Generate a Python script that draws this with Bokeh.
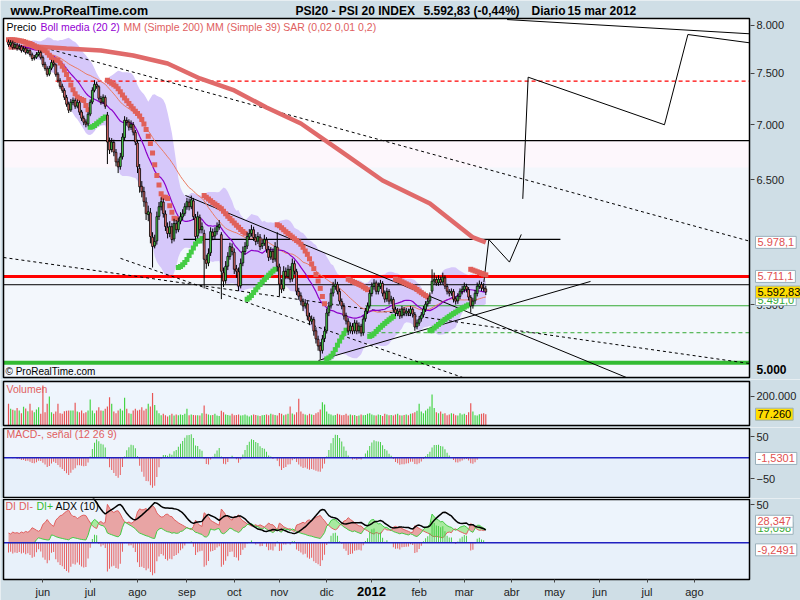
import numpy as np
from bokeh.plotting import figure
from bokeh.layouts import column
from bokeh.models import Range1d, FixedTicker, Label, ColumnDataSource, LinearAxis, LogAxis
from bokeh.embed import file_html
from bokeh.resources import INLINE

# ---------------- data ----------------
month_labels = ["jun", "jul", "ago", "sep", "oct", "nov", "dic", "2012", "feb", "mar",
                "abr", "may", "jun", "jul", "ago"]
month_index = [16, 38, 60, 83, 105, 126, 148, 169, 191, 212, 234, 254, 275, 297, 319]

opens = [
    7820, 7790, 7810, 7765, 7790, 7755, 7770, 7735, 7750, 7712,
    7730, 7688, 7652, 7662, 7690, 7712, 7658, 7590, 7545, 7490,
    7550, 7605, 7585, 7490, 7425, 7370, 7328, 7260, 7196, 7140,
    7210, 7230, 7176, 7210, 7120, 7060, 7025, 7006, 7100, 7215,
    7330, 7390, 7365, 7250, 7215, 7260, 7090, 6845, 6770, 6835,
    6745, 6660, 6617, 6705, 6880, 7040, 7025, 6975, 7000, 6928,
    6830, 6600, 6445, 6400, 6310, 6205, 6220, 6020, 5950, 5990,
    6190, 6270, 6310, 6210, 6100, 6050, 6105, 6005, 6130, 6080,
    6150, 6185, 6215, 6270, 6310, 6270, 6320, 6180, 6030, 6180,
    6080, 6050, 5840, 5815, 5895, 6060, 6030, 6065, 6100, 6040,
    5740, 5680, 5790, 5865, 5940, 5900, 5770, 5748, 5640, 5815,
    5905, 5948, 6022, 6050, 6080, 6015, 5988, 6020, 5948, 5970,
    5998, 5920, 5862, 5905, 5846, 5940, 5785, 5650, 5618, 5750,
    5712, 5765, 5692, 5810, 5748, 5597, 5565, 5522, 5490, 5505,
    5413, 5378, 5390, 5310, 5250, 5205, 5172, 5255, 5310, 5440,
    5490, 5585, 5635, 5650, 5597, 5523, 5487, 5418, 5378, 5310,
    5342, 5310, 5364, 5310, 5342, 5296, 5396, 5450, 5490, 5582,
    5635, 5662, 5597, 5635, 5658, 5586, 5542, 5597, 5527, 5538,
    5465, 5436, 5450, 5418, 5465, 5436, 5450, 5436, 5465, 5428,
    5339, 5364, 5396, 5425, 5465, 5505, 5527, 5600, 5676, 5688,
    5662, 5688, 5669, 5700, 5635, 5597, 5586, 5597, 5542, 5527,
    5560, 5597, 5612, 5635, 5612, 5553, 5492, 5527, 5582, 5635,
    5650, 5624, 5617]

highs = [
    7845, 7840, 7835, 7820, 7810, 7800, 7790, 7775, 7770, 7755,
    7750, 7710, 7685, 7715, 7735, 7730, 7680, 7615, 7570, 7575,
    7635, 7630, 7600, 7510, 7450, 7395, 7350, 7285, 7220, 7245,
    7260, 7250, 7240, 7230, 7140, 7085, 7050, 7120, 7240, 7360,
    7430, 7415, 7380, 7275, 7290, 7280, 7120, 6880, 6875, 6860,
    6775, 6690, 6740, 6920, 7080, 7070, 7050, 7040, 7025, 6950,
    6860, 6640, 6490, 6440, 6350, 6280, 6260, 6060, 6040, 6230,
    6310, 6350, 6340, 6240, 6140, 6150, 6135, 6170, 6160, 6180,
    6225, 6250, 6300, 6345, 6340, 6365, 6345, 6210, 6230, 6205,
    6140, 6080, 5880, 5930, 6100, 6090, 6100, 6140, 6160, 6060,
    5780, 5830, 5900, 5975, 5970, 5930, 5800, 5780, 5850, 5945,
    5980, 6060, 6085, 6120, 6105, 6045, 6060, 6045, 6000, 6040,
    6020, 5950, 5940, 5930, 5980, 6060, 5810, 5690, 5790, 5780,
    5800, 5790, 5850, 5835, 5770, 5625, 5590, 5545, 5540, 5525,
    5440, 5420, 5410, 5335, 5275, 5230, 5280, 5340, 5470, 5520,
    5620, 5670, 5690, 5670, 5620, 5545, 5510, 5440, 5400, 5370,
    5365, 5390, 5385, 5370, 5360, 5420, 5475, 5515, 5610, 5665,
    5690, 5680, 5665, 5685, 5675, 5605, 5625, 5615, 5565, 5555,
    5485, 5475, 5470, 5490, 5480, 5475, 5470, 5490, 5480, 5445,
    5390, 5415, 5445, 5490, 5525, 5550, 5590, 5766, 5740, 5710,
    5720, 5710, 5740, 5720, 5655, 5615, 5620, 5615, 5560, 5585,
    5620, 5640, 5665, 5655, 5630, 5570, 5550, 5610, 5665, 5680,
    5670, 5660, 5640]

lows = [
    7770, 7770, 7740, 7745, 7730, 7735, 7710, 7715, 7690, 7695,
    7668, 7625, 7630, 7645, 7670, 7640, 7565, 7525, 7465, 7470,
    7530, 7565, 7465, 7405, 7345, 7305, 7235, 7170, 7110, 7120,
    7185, 7150, 7155, 7090, 7035, 6995, 6975, 6985, 7080, 7195,
    7310, 7345, 7230, 7190, 7195, 7150, 6640, 6730, 6745, 6710,
    6620, 6560, 6590, 6680, 6850, 6990, 6945, 6950, 6900, 6810,
    6560, 6390, 6350, 6270, 6160, 6150, 5970, 5780, 5930, 5960,
    6160, 6240, 6180, 6070, 6010, 6020, 5970, 5985, 6050, 6060,
    6125, 6160, 6195, 6245, 6240, 6250, 6160, 5990, 6010, 6050,
    6050, 5620, 5770, 5790, 5870, 5995, 6005, 6040, 6080, 5540,
    5630, 5655, 5760, 5840, 5875, 5730, 5700, 5600, 5620, 5790,
    5880, 5925, 6000, 6025, 5990, 5955, 5965, 5915, 5925, 5950,
    5895, 5830, 5840, 5815, 5825, 5750, 5562, 5585, 5600, 5690,
    5690, 5665, 5670, 5725, 5570, 5535, 5495, 5452, 5470, 5385,
    5350, 5355, 5275, 5220, 5170, 5113, 5150, 5230, 5290, 5415,
    5470, 5560, 5610, 5575, 5500, 5465, 5390, 5355, 5280, 5290,
    5285, 5290, 5285, 5290, 5270, 5275, 5375, 5430, 5470, 5560,
    5610, 5575, 5575, 5615, 5560, 5515, 5520, 5500, 5505, 5440,
    5415, 5415, 5395, 5400, 5415, 5415, 5415, 5415, 5405, 5310,
    5320, 5345, 5375, 5405, 5445, 5485, 5505, 5580, 5650, 5640,
    5640, 5645, 5650, 5615, 5575, 5560, 5565, 5515, 5500, 5505,
    5540, 5575, 5590, 5590, 5530, 5440, 5470, 5505, 5560, 5615,
    5600, 5595, 5570]

closes = [
    7793, 7814, 7762, 7793, 7752, 7773, 7732, 7752, 7711, 7732,
    7690, 7649, 7660, 7690, 7711, 7660, 7588, 7548, 7488, 7548,
    7608, 7588, 7488, 7429, 7369, 7330, 7262, 7194, 7137, 7213,
    7232, 7175, 7213, 7118, 7061, 7023, 7004, 7099, 7213, 7330,
    7389, 7369, 7252, 7213, 7262, 7175, 6839, 6766, 6839, 6748,
    6659, 6615, 6703, 6884, 7042, 7023, 6976, 7004, 6930, 6839,
    6615, 6440, 6397, 6313, 6213, 6229, 6025, 5945, 5985, 6188,
    6271, 6313, 6213, 6106, 6049, 6106, 6001, 6131, 6081, 6147,
    6188, 6213, 6271, 6313, 6271, 6330, 6188, 6025, 6188, 6081,
    6106, 5844, 5812, 5890, 6065, 6025, 6065, 6106, 6122, 5751,
    5675, 5789, 5867, 5945, 5906, 5766, 5751, 5637, 5812, 5906,
    5945, 6025, 6049, 6081, 6017, 5985, 6025, 5945, 5969, 6001,
    5922, 5859, 5906, 5844, 5945, 5789, 5652, 5614, 5751, 5713,
    5766, 5690, 5812, 5751, 5599, 5562, 5525, 5489, 5510, 5416,
    5380, 5394, 5308, 5252, 5203, 5169, 5252, 5308, 5438, 5489,
    5584, 5637, 5652, 5599, 5525, 5489, 5416, 5380, 5308, 5344,
    5308, 5366, 5308, 5344, 5294, 5394, 5452, 5489, 5584, 5637,
    5660, 5599, 5637, 5660, 5584, 5540, 5599, 5525, 5540, 5467,
    5438, 5452, 5416, 5467, 5438, 5452, 5438, 5467, 5430, 5337,
    5366, 5394, 5423, 5467, 5503, 5525, 5562, 5675, 5690, 5660,
    5690, 5667, 5705, 5637, 5599, 5584, 5599, 5540, 5525, 5562,
    5599, 5614, 5637, 5614, 5555, 5489, 5525, 5584, 5637, 5652,
    5622, 5617, 5592.83]

volumes = [
    148000, 114000, 108000, 102000, 120000, 102000, 84000, 128000, 116000, 97000,
    148000, 102000, 90000, 110000, 124000, 81000, 273000, 90000, 148000, 198000,
    90000, 80000, 95000, 148000, 84000, 80000, 97000, 100000, 102000, 102000,
    102000, 155000, 95000, 90000, 102000, 84000, 90000, 102000, 177000, 102000,
    84000, 102000, 125000, 102000, 100000, 114000, 130000, 193000, 148000, 95000,
    84000, 102000, 114000, 102000, 189000, 114000, 84000, 80000, 102000, 114000,
    102000, 108000, 124000, 102000, 114000, 148000, 130000, 221000, 140000, 102000,
    84000, 70000, 80000, 70000, 62000, 70000, 80000, 68000, 75000, 70000,
    75000, 72000, 80000, 114000, 70000, 75000, 72000, 70000, 70000, 68000,
    84000, 137000, 80000, 75000, 70000, 72000, 80000, 68000, 65000, 100000,
    90000, 75000, 72000, 68000, 80000, 70000, 72000, 75000, 68000, 70000,
    75000, 68000, 62000, 70000, 75000, 72000, 68000, 65000, 70000, 72000,
    75000, 70000, 80000, 75000, 72000, 68000, 85000, 80000, 70000, 75000,
    80000, 130000, 82000, 75000, 90000, 182000, 95000, 80000, 75000, 70000,
    80000, 75000, 72000, 84000, 90000, 110000, 159000, 143000, 95000, 80000,
    75000, 68000, 72000, 80000, 75000, 70000, 72000, 80000, 68000, 75000,
    70000, 72000, 65000, 68000, 75000, 70000, 72000, 80000, 84000, 75000,
    70000, 68000, 75000, 72000, 65000, 80000, 75000, 70000, 72000, 68000,
    75000, 80000, 70000, 68000, 72000, 75000, 70000, 80000, 84000, 90000,
    100000, 148000, 95000, 84000, 102000, 114000, 130000, 212000, 120000, 90000,
    84000, 95000, 80000, 84000, 70000, 75000, 84000, 80000, 70000, 68000,
    84000, 75000, 80000, 72000, 90000, 152000, 95000, 70000, 68000, 77000,
    80000, 84000, 77260]

# 200-day simple average, read at a few points along its curve
mm200_index = [0, 12, 27, 43, 58, 74, 89, 105, 120, 136, 154, 174, 196, 216, 222]
mm200_value = [7763, 7773, 7752, 7732, 7680, 7598, 7447, 7328, 7163, 7011, 6762, 6495, 6298, 6018, 5978.1]

# last indicator values printed on the right-hand scale
last_macd_hist = -1.5301
last_di_minus = 28.347
last_di_plus = 19.098
last_di_diff = -9.2491

# horizontal levels drawn on the price chart
level_price = [6851, 7421, 6002, 5711.1, 5648, 5491, 5296, 5087]
level_from = [-2.3, 21.9, 81.4, -2.3, -2.3, 166.0, 163.7, -2.3]
level_to = [344.6, 344.6, 256.7, 344.6, 344.6, 344.6, 344.6, 344.6]

# drawn trend lines (solid and dashed), index / price
solid_x0 = [82.3, 144.2, 231.9]
solid_p0 = [6366, 5103, 8059]
solid_x1 = [287.3, 270.7, 344.6]
solid_p1 = [4988, 5673, 7907]
dashed_x0 = [11.6, 52.1, -2.3]
dashed_p0 = [7791, 5851, 5858]
dashed_x1 = [344.6, 211.2, 344.6]
dashed_p1 = [5988, 4988, 5082]

# projected path drawn into the future
proj1_x = [221.1, 223.4, 233.0, 238.5]
proj1_p = [5667, 6001, 5822, 6042]
proj2_x = [239.2, 241.7, 305.1, 316.0, 344.6]
proj2_p = [6337, 7460, 6999, 7899, 7812]

# ---------------- indicators derived from the price data ----------------
o = np.array(opens, float)
h = np.array(highs, float)
l = np.array(lows, float)
c = np.array(closes, float)
v = np.array(volumes, float)
n = len(c)
ix = np.arange(n)


def roll(a, w, f):
    return np.array([f(a[max(0, i - w + 1):i + 1]) for i in range(len(a))])


def ema(a, w):
    k = 2.0 / (w + 1)
    out = np.empty(len(a))
    out[0] = a[0]
    for i in range(1, len(a)):
        out[i] = out[i - 1] + k * (a[i] - out[i - 1])
    return out


def wilder(a, w):
    out = np.empty(len(a))
    out[0] = a[:w].mean()
    for i in range(1, len(a)):
        out[i] = out[i - 1] + (a[i] - out[i - 1]) / w
    return out


mid = roll(c, 20, np.mean)
sd = roll(c, 20, np.std)
bb_up = mid + 2 * sd
bb_lo = mid - 2 * sd
mm39 = roll(c, 39, np.mean)

macd = ema(c, 12) - ema(c, 26)
hist = macd - ema(macd, 9)

pc = np.r_[c[0], c[:-1]]
ph = np.r_[h[0], h[:-1]]
pl = np.r_[l[0], l[:-1]]
tr = np.maximum.reduce([h - l, np.abs(h - pc), np.abs(l - pc)])
upm = h - ph
dnm = pl - l
pdm = np.where((upm > dnm) & (upm > 0), upm, 0.0)
mdm = np.where((dnm > upm) & (dnm > 0), dnm, 0.0)
atr = wilder(tr, 10)
pdi = 100 * wilder(pdm, 10) / atr
mdi = 100 * wilder(mdm, 10) / atr
dx = 100 * np.abs(pdi - mdi) / np.maximum(pdi + mdi, 1e-9)
adx = wilder(dx, 10)
didiff = pdi - mdi

# parabolic SAR (0.02, 0.01, 0.2)
sar = np.empty(n)
bull = np.zeros(n, bool)
uptrend = False
ep = l[0]
af = 0.02
sar[0] = h[0]
for i in range(1, n):
    s = sar[i - 1] + af * (ep - sar[i - 1])
    if uptrend:
        s = min(s, l[i - 1], l[max(i - 2, 0)])
        if l[i] < s:
            uptrend, s, ep, af = False, ep, l[i], 0.02
        elif h[i] > ep:
            ep, af = h[i], min(af + 0.01, 0.2)
    else:
        s = max(s, h[i - 1], h[max(i - 2, 0)])
        if h[i] > s:
            uptrend, s, ep, af = True, ep, h[i], 0.02
        elif l[i] < ep:
            ep, af = l[i], min(af + 0.01, 0.2)
    sar[i] = s
    bull[i] = uptrend

# ---------------- layout / styling ----------------
BG = "#cfdee6"
FONT = "Liberation Sans"
UP, DN = "#4cd44c", "#e8706a"
XPX0, XSTEP = 8.0, 2.15            # pixel position of day 0 and pixel width per day


def xi(px):
    return (px - XPX0) / XSTEP


xr = Range1d(xi(0), xi(800))
PL, PR = xi(3), xi(749)            # panel left / right edges
AXX = xi(750)                      # right-hand scale position

# vertical calibration of each panel (pixel -> value)
Y0, K = 6728.1, 745.9


def pv_main(y):
    return float(np.exp((Y0 - y) / K))


def pv_vol(y):
    return (425 - y) * 6826.0


def pv_mac(y):
    return (457.3 - y) / 0.42


def pv_di(y):
    return (542.3 - y) / 0.76


GEOM = {}


def make(top, bottom, pv, ytype="linear"):
    p = figure(width=800, height=bottom - top, x_range=xr, y_range=Range1d(pv(bottom), pv(top)),
               y_axis_type=ytype, x_axis_location=None, y_axis_location=None,
               toolbar_location=None, output_backend="svg",
               min_border=0, min_border_left=0, min_border_right=0, min_border_top=0,
               min_border_bottom=0, background_fill_color=BG, border_fill_color=BG,
               outline_line_color=None)
    p.grid.visible = False
    GEOM[p.id] = (top, bottom - top)
    return p


def box(p, pv, ytop, ybot, color):
    p.quad(left=PL, right=PR, bottom=pv(ybot), top=pv(ytop), fill_color=color, line_color=None)


def frame(p, pv, ytop, ybot):
    p.quad(left=PL, right=PR, bottom=pv(ybot), top=pv(ytop), fill_color=None,
           line_color="black", line_width=1.5)


def yaxis(p, axcls, ticks, overrides=None):
    ax = axcls(fixed_location=AXX, ticker=FixedTicker(ticks=ticks))
    if overrides:
        ax.major_label_overrides = overrides
    ax.axis_line_color = None
    ax.major_tick_in = 0
    ax.major_tick_out = 4
    ax.major_tick_line_color = "#444"
    ax.minor_tick_line_color = None
    ax.major_label_text_font = FONT
    ax.major_label_text_font_size = "11px"
    ax.major_label_text_color = "#222"
    ax.major_label_standoff = 2
    p.add_layout(ax, "right")


def lab(p, x, y, text, color="black", size=10.5, bold=False, align="left"):
    top, hh = GEOM[p.id]
    p.add_layout(Label(x=x, y=hh - (y - top), x_units="screen", y_units="screen",
                       text=text, text_color=color, text_font=FONT,
                       text_font_size=f"{size}px", text_font_style="bold" if bold else "normal",
                       text_align=align, text_baseline="middle"))


def vlab(p, yval, text, color, fill):
    p.add_layout(Label(x=755, y=yval, x_units="screen", y_units="data", text=text,
                       text_color=color, text_font=FONT, text_font_size="11px",
                       text_baseline="middle", text_align="left",
                       background_fill_color=fill, border_line_color="#9ab0bb",
                       border_line_width=1, padding=2))


# ---- title + main price panel (pixels 0..379) ----
main = make(0, 379, pv_main, ytype="log")
box(main, pv_main, 18, 377, "#f3f7fc")
box(main, pv_main, 140, 167, "#fdf7fc")
box(main, pv_main, 18, 140, "white")
main.varea(x=ix, y1=bb_lo, y2=bb_up, fill_color="#d6c8fa")

lvl_color = ["black", "red", "black", "red", "black", "#33aa33", "#33aa33", "#33bb33"]
lvl_width = [1.2, 1.2, 1.2, 3, 1, 1, 1, 4]
lvl_dash = ["solid", "4 3", "solid", "solid", "solid", "solid", "4 3", "solid"]
for k in range(len(level_price)):
    main.line([level_from[k], level_to[k]], [level_price[k]] * 2, line_color=lvl_color[k],
              line_width=lvl_width[k], line_dash=lvl_dash[k])

main.segment(x0=dashed_x0, y0=dashed_p0, x1=dashed_x1, y1=dashed_p1, line_color="black",
             line_width=1, line_dash="3 3")
main.segment(x0=solid_x0, y0=solid_p0, x1=solid_x1, y1=solid_p1, line_color="black", line_width=1)
main.line(proj1_x, proj1_p, line_color="black", line_width=1)
main.line(proj2_x, proj2_p, line_color="black", line_width=1)

main.line(mm200_index, mm200_value, line_color="#e06a6a", line_width=4.5)
main.line(ix, mm39, line_color="#ea7a62", line_width=1)
main.line(ix, mid, line_color="#8b00c9", line_width=1.2)

main.scatter(ix[~bull], sar[~bull], marker="square", size=5, fill_color="#e0605a", line_color=None)
main.scatter(ix[bull], sar[bull], marker="square", size=5, fill_color="#44cc44", line_color=None)

src = ColumnDataSource(dict(x=ix, h=h, l=l, top=np.maximum(o, c), bot=np.minimum(o, c),
                            col=np.where(c >= o, UP, DN)))
main.segment(x0="x", y0="l", x1="x", y1="h", source=src, line_color="black", line_width=1)
main.vbar(x="x", width=0.85, top="top", bottom="bot", fill_color="col", line_color="black",
          line_width=0.8, source=src)
frame(main, pv_main, 18, 377)

yaxis(main, LogAxis, [5500, 6500, 7000, 7500, 8000],
      {5500: "5.500", 6500: "6.500", 7000: "7.000", 7500: "7.500", 8000: "8.000"})

lab(main, 10, 10, "www.ProRealTime.com", size=12.5, bold=True)
lab(main, 295, 10, "PSI20 - PSI 20 INDEX", size=12, bold=True)
lab(main, 423, 10, "5.592,83 (-0,44%)", size=12, bold=True)
lab(main, 531, 10, "Diario", size=12, bold=True)
lab(main, 567, 10, "15 mar 2012", size=12, bold=True)
lab(main, 6, 26, "Precio")
lab(main, 40, 26, "Boll media (20 2)", color="#9400d3")
lab(main, 123, 26, "MM (Simple 200) MM (Simple 39) SAR (0,02 0,01 0,2)", color="#e06060")
lab(main, 5, 371, "\u00a9 ProRealTime.com", size=10)
lab(main, 756, 369, "5.000", size=12, bold=True)

vlab(main, 5978.1, "5.978,1", "#e05050", "white")
vlab(main, 5711.1, "5.711,1", "#e05050", "white")
vlab(main, pv_main(299), "5.491,0", "#33aa33", "white")
vlab(main, 5592.83, "5.592,83", "black", "#ffdd00")

# ---- volume panel (pixels 379..427) ----
vol = make(379, 427, pv_vol)
box(vol, pv_vol, 381, 425, "#eef5fd")
vol.vbar(x=ix, width=0.55, top=v, bottom=0,
         fill_color=np.where(c >= o, "#44d444", "#e85555").tolist(), line_color=None)
frame(vol, pv_vol, 381, 425)
yaxis(vol, LinearAxis, [200000], {200000: "200.000"})
lab(vol, 6, 388, "Volumen", color="#e06060")
vlab(vol, 77260, "77.260", "black", "#ffdd00")

# ---- MACD panel (pixels 427..498) ----
mac = make(427, 498, pv_mac)
box(mac, pv_mac, 428, 497, "#eef4fc")
box(mac, pv_mac, 457.3, 497, "#e7f0fa")
mac.vbar(x=ix, width=0.45, top=hist, bottom=0,
         fill_color=np.where(hist >= 0, "#44cc44", "#e85a5a").tolist(), line_color=None)
mac.line([PL, PR], [0, 0], line_color="#2020c0", line_width=1.5)
frame(mac, pv_mac, 428, 497)
yaxis(mac, LinearAxis, [-50, 50])
lab(mac, 6, 433, "MACD-, se\u00f1al (12 26 9)", color="#e06060")
vlab(mac, last_macd_hist, "-1,5301", "#e05050", "white")

# ---- DI / ADX panel (pixels 498..600) ----
di = make(498, 600, pv_di)
box(di, pv_di, 499, 579, "#edf4fc")
box(di, pv_di, 542.3, 579, "#e8f1fa")
red_top = np.where(mdi > pdi, mdi, pdi)
grn_top = np.where(pdi > mdi, pdi, mdi)
di.varea(x=ix, y1=pdi, y2=red_top, fill_color="#e8a4a4")
di.varea(x=ix, y1=mdi, y2=grn_top, fill_color="#a8eaa0")
di.line(ix, mdi, line_color="#e06060", line_width=1)
di.line(ix, pdi, line_color="#44cc44", line_width=1)
di.vbar(x=ix, width=0.45, top=didiff, bottom=0,
        fill_color=np.where(didiff >= 0, "#44cc44", "#e85a5a").tolist(), line_color=None)
di.line([PL, PR], [0, 0], line_color="#2020c0", line_width=1.5)
di.line(ix, adx, line_color="black", line_width=1.5)
frame(di, pv_di, 499, 579)
yaxis(di, LinearAxis, [50])
lab(di, 5, 505, "DI DI-", color="#e06060")
lab(di, 36, 505, "DI+", color="#33bb33")
lab(di, 55, 505, "ADX (10)", color="black")
vlab(di, last_di_plus, "19,098", "#33aa33", "white")
vlab(di, last_di_minus, "28,347", "#e05050", "white")
vlab(di, last_di_diff, "-9,2491", "#e05050", "white")

xa = LinearAxis(fixed_location=pv_di(579), ticker=FixedTicker(ticks=month_index))
xa.major_label_overrides = {m: (t if t != "2012" else "") for m, t in zip(month_index, month_labels)}
xa.axis_line_color = None
xa.major_tick_in = 0
xa.major_tick_out = 3
xa.major_tick_line_color = "#444"
xa.minor_tick_line_color = None
xa.major_label_text_font = FONT
xa.major_label_text_font_size = "11px"
xa.major_label_text_color = "#222"
xa.major_label_standoff = 3
di.add_layout(xa, "below")
lab(di, 371, 591, "2012", size=13, bold=True, align="center")

layout = column(main, vol, mac, di, spacing=0)
open("out.html", "w").write(file_html(layout, INLINE))
